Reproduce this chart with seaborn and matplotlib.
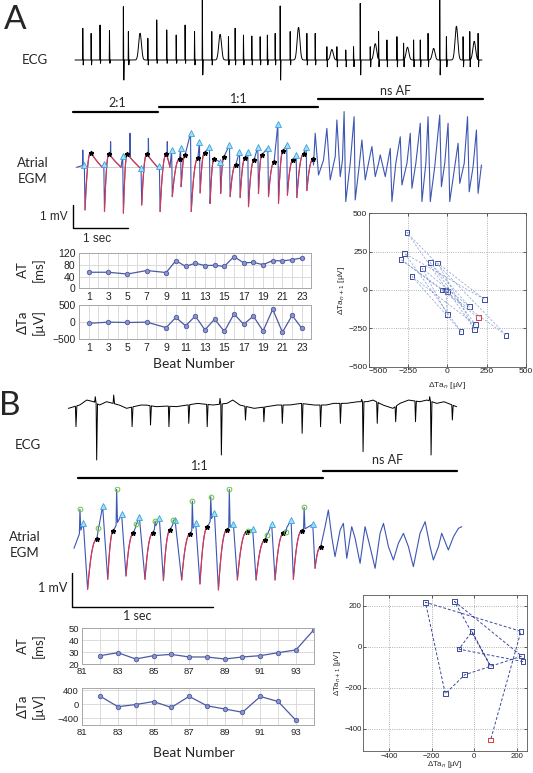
import numpy as np
import pandas as pd
import matplotlib
matplotlib.use("Agg")
import matplotlib.pyplot as plt
import seaborn as sns

sns.set_theme(style="white")
plt.rcParams["font.family"] = ["Liberation Sans", "DejaVu Sans"]
LBL = ["Lato", "DejaVu Sans"]

# ======================= DATA =======================
# ---- Panel A : beat-by-beat AT / dTa ----
beats_a = [1, 3, 5, 7, 9, 10, 11, 12, 13, 14, 15, 16, 17, 18, 19, 20, 21, 22, 23]
at_a = [55, 55, 49, 61, 54, 95, 75, 86, 78, 79, 75, 109, 87, 89, 81, 95, 94, 98, 104]
dta_a = [-35, 0, -10, 0, -160, 140, -108, 178, -225, 88, -272, 238, -62, 175,
         -258, 375, -295, 198, -180]
xticks_a = [1, 3, 5, 7, 9, 11, 13, 15, 17, 19, 21, 23]

# ---- Panel B : beat-by-beat AT / dTa ----
beats_b_at = [82, 83, 84, 85, 86, 87, 88, 89, 90, 91, 92, 93, 94]
at_b = [27, 29.5, 24.2, 27, 28.1, 25.9, 25.9, 24.2, 25.9, 27, 29.5, 31.8, 48.6]
beats_b_dta = [82, 83, 84, 85, 86, 87, 88, 89, 90, 91, 92, 93]
dta_b = [228, -72, -11, 75, -93, 222, -45, -136, -229, 218, 76, -455]
xticks_b = [81, 83, 85, 87, 89, 91, 93]

# ---- Panel A : surface ECG (time s, mV) ----
ecgA_spk_t = [0.14, 0.29, 0.45, 0.62, 0.87, 0.96, 1.31, 1.47, 1.65, 1.82, 1.98, 2.15, 2.29,
              2.46, 2.76, 2.88, 3.03, 3.18, 3.33, 3.46, 3.60, 3.69, 3.87, 4.17, 4.32, 4.53,
              4.71, 4.87, 5.01, 5.13, 5.31, 5.46, 5.61, 5.79, 5.91, 6.09, 6.21, 6.35, 6.56,
              6.68, 6.98, 7.10, 7.25]
ecgA_spk_top = [1.36, 1.14, 1.50, 1.26, 2.29, 1.22, 0.93, 1.72, 1.29, 1.07, 1.50, 1.22, 2.58,
                1.22, 1.00, 1.36, 1.07, 1.03, 1.00, 1.07, 1.14, 2.32, 1.22, 1.14, 1.14, 0.57,
                0.57, 0.43, 0.57, 2.43, 0.57, 1.22, 0.86, 1.00, 0.72, 0.86, 0.86, 1.14, 2.58,
                1.00, 1.00, 1.22, 1.14]
ecgA_spk_bot = [-0.21, -0.21, -0.14, -0.14, -0.86, -0.21, -0.21, -0.14, -0.14, -0.14, -0.14,
                -0.21, -0.64, -0.21, -0.21, -0.21, -0.21, -0.21, -0.21, -0.21, -0.21, -0.86,
                -0.21, -0.21, -0.21, -0.29, -0.29, -0.29, -0.29, -0.64, -0.29, -0.29, -0.29,
                -0.29, -0.29, -0.29, -0.29, -0.29, -0.64, -0.29, -0.29, -0.29, -0.29]
ecgA_hump_t = [1.17, 2.61, 4.02, 4.62, 5.40, 5.98, 6.45, 6.86, 7.18]
ecgA_hump_v = [1.15, 1.10, 1.40, 0.45, 0.70, 0.55, 0.50, 1.45, 0.80]

# ---- Panel A : atrial EGM (time s, mV) ----
egmA_down_t = [0.18, 0.53, 0.87, 1.20, 1.53, 1.75, 1.91, 2.09, 2.25, 2.43, 2.62, 2.79, 2.97,
               3.12, 3.30, 3.48, 3.66, 3.82, 3.99, 4.17]
egmA_down_v = [-1.83, -1.90, -1.97, -1.62, -1.90, -1.26, -0.83, -1.90, -1.10, -1.55, -1.12,
               -1.26, -1.30, -1.69, -1.12, -1.26, -1.55, -1.20, -1.30, -1.00]
egmA_star_t = [0.28, 0.61, 0.94, 1.29, 1.64, 1.88, 1.98, 2.21, 2.33, 2.50, 2.68, 2.89, 3.06,
               3.22, 3.36, 3.58, 3.74, 3.92, 4.11, 4.28]
egmA_star_v = [0.63, 0.57, 0.57, 0.57, 0.57, 0.36, 0.53, 0.39, 0.63, 0.34, 0.46, 0.10, 0.41,
               0.31, 0.53, 0.21, 0.70, 0.31, 0.57, 0.34]
egmA_tri_v = [0.10, 0.13, 0.50, -0.04, 0.06, 0.74, 0.82, 1.46, 1.10, 0.88, 0.24, 0.96, 0.67,
              0.67, 0.88, 0.84, 1.86, 0.96, 0.53, 0.88]
egmA_ff_t = [0.14, 0.64, 0.99, 1.32, 1.66]
egmA_ff_v = [0.74, 1.10, 1.46, 1.24, 1.10]
egmA_af_t = [4.29, 4.32, 4.38, 4.47, 4.53, 4.59, 4.68, 4.71, 4.77, 4.81, 4.84, 4.87, 4.95,
             5.02, 5.04, 5.11, 5.16, 5.22, 5.29, 5.34, 5.40, 5.46, 5.49, 5.58, 5.67, 5.70,
             5.77, 5.85, 5.88, 5.97, 6.03, 6.06, 6.13, 6.21, 6.24, 6.31, 6.35, 6.39, 6.47,
             6.56, 6.59, 6.65, 6.71, 6.74, 6.83, 6.89, 6.92, 7.00, 7.06, 7.09, 7.16, 7.22,
             7.25, 7.31]
egmA_af_v = [0.10, 1.46, -0.33, 0.31, 1.67, -0.54, 0.46, 2.03, -0.40, 0.31, 2.39, -1.47, 0.17,
             2.17, -1.40, 0.03, 1.17, -0.54, 0.31, 0.89, -0.40, 0.17, 0.53, -0.40, 0.81, -1.47,
             0.17, 1.31, -0.76, 0.17, 1.46, -0.90, 0.17, 1.89, -1.47, 0.17, 2.17, -1.47, 0.03,
             2.24, -0.83, 0.17, 1.89, -1.47, 0.03, 1.03, -0.69, 0.17, 2.17, -1.05, 0.03, 1.60,
             -1.12, 0.10]

# ---- Panel B : surface ECG (time s, mV) ----
ecgB_base_t = [-0.04, 0.04, 0.09, 0.14, 0.18, 0.23, 0.32, 0.37, 0.47, 0.51, 0.58, 0.65, 0.72,
               0.80, 0.87, 0.98, 1.08, 1.12, 1.17, 1.27, 1.36, 1.43, 1.52, 1.60, 1.69, 1.78,
               1.83, 1.92, 2.00, 2.07, 2.11, 2.18, 2.25, 2.30, 2.36, 2.44, 2.49, 2.56, 2.61,
               2.70]
ecgB_base_v = [-0.05, 0.05, 0.20, 0.15, 0.05, 0.15, 0.05, -0.05, 0.05, 0.05, 0.0, 0.02, 0.0,
               0.05, 0.10, 0.05, 0.10, 0.20, 0.05, -0.05, 0.0, 0.05, 0.05, 0.10, 0.05, 0.05,
               0.10, 0.10, 0.15, 0.15, 0.20, 0.05, -0.05, 0.10, 0.20, 0.15, 0.20, 0.10, 0.15,
               0.0]
ecgB_dn_t = [0.014, 0.16, 0.41, 0.54, 0.67, 0.81, 0.94, 1.04, 1.21, 1.34, 1.47, 1.61, 1.74,
             1.88, 2.04, 2.14, 2.27, 2.41, 2.52, 2.67]
ecgB_dn_v = [-0.60, -1.60, -0.60, -0.55, -0.60, -0.50, -0.60, -1.45, -0.40, -0.45, -0.50,
             -0.80, -0.60, -0.50, -1.35, -0.50, -0.45, -0.45, -1.45, -0.40]
ecgB_up_t = [0.15, 0.28, 1.03, 2.03, 2.51]
ecgB_up_v = [0.30, 0.35, 0.25, 0.22, 0.30]

# ---- Panel B : atrial EGM (time s, mV) ----
egmB_down_t = [0.096, 0.238, 0.367, 0.501, 0.631, 0.760, 0.889, 1.019, 1.153, 1.285, 1.419,
               1.548, 1.701]
egmB_down_v = [-1.48, -1.18, -1.08, -1.18, -1.22, -1.20, -1.32, -1.50, -1.20, -1.20, -1.20,
               -1.18, -0.85]
egmB_star_t = [0.160, 0.278, 0.419, 0.555, 0.678, 0.819, 0.941, 1.078, 1.219, 1.348, 1.478,
               1.607, 1.741]
egmB_star_v = [0.02, 0.28, 0.20, 0.20, 0.30, 0.18, 0.38, 0.30, 0.25, 0.00, 0.20, 0.28, -0.20]
egmB_green_t = [0.042, 0.172, 0.301, 0.438, 0.572, 0.701, 0.835, 0.965, 1.096, 1.231, 1.360,
                1.496, 1.624]
egmB_green_v = [0.92, 0.37, 1.52, 0.47, 0.57, 0.60, 1.17, 1.30, 1.52, 0.28, 0.15, 0.24, 0.98]
egmB_tri_t = [0.066, 0.202, 0.336, 0.461, 0.602, 0.713, 0.859, 0.991, 1.125, 1.261, 1.395,
              1.532, 1.685]
egmB_tri_v = [0.50, 1.02, 0.77, 0.70, 0.67, 0.60, 0.50, 0.82, 0.47, 0.32, 0.47, 0.60, 0.47]
egmB_af_t = [1.772, 1.795, 1.819, 1.842, 1.878, 1.901, 1.925, 1.960, 1.984, 2.019, 2.054,
             2.089, 2.125, 2.160, 2.184, 2.219, 2.254, 2.289, 2.325, 2.360, 2.395, 2.442,
             2.478, 2.513, 2.536, 2.572, 2.595, 2.642, 2.678, 2.713, 2.736]
egmB_af_v = [0.40, 0.90, 0.10, -0.50, 0.30, 0.50, -0.55, 0.40, 0.05, -0.70, 0.40, -0.20,
             -0.85, 0.20, 0.50, -0.20, -0.60, -0.10, 0.20, -0.20, -0.80, 0.20, 0.55, -0.20,
             -0.60, -0.20, 0.20, -0.30, 0.10, 0.35, 0.40]

# ======================= STYLE =======================
W, H = 533, 773
BLUE = "#3d56b2"
RED = "#e8324a"
SMALL_LINE = "#4d5aa3"
SMALL_MFC = "#8b93c9"
SQ = "#3b4a9c"

fig = plt.figure(figsize=(W / 100, H / 100), dpi=100)


def add_ax(x0, y0, x1, y1):
    return fig.add_axes([x0 / W, 1 - y1 / H, (x1 - x0) / W, (y1 - y0) / H])


def trace_ax(xlim, ylim, px0, sx, py0, sy):
    ax = add_ax(px0 + sx * xlim[0], py0 - sy * ylim[1], px0 + sx * xlim[1], py0 - sy * ylim[0])
    ax.set_xlim(xlim)
    ax.set_ylim(ylim)
    ax.axis("off")
    return ax


def ftxt(px, py, s, **kw):
    kw.setdefault("ha", "center")
    kw.setdefault("va", "center")
    fig.text(px / W, 1 - py / H, s, **kw)


def insert_spikes(tt, vv, spikes):
    tt = np.asarray(tt, float)
    vv = np.asarray(vv, float)
    keep = np.ones(len(tt), bool)
    at, av = [], []
    for t, shape in spikes:
        lo = t + min(d for d, _ in shape) - 0.004
        hi = t + max(d for d, _ in shape) + 0.006
        keep &= ~((tt > lo) & (tt < hi))
        at += [lo, hi] + [t + d for d, _ in shape]
        av += [np.interp(lo, tt, vv), np.interp(hi, tt, vv)] + [v for _, v in shape]
    T = np.concatenate([tt[keep], at])
    V = np.concatenate([vv[keep], av])
    o = np.argsort(T, kind="stable")
    return T[o], V[o]


def build_egm(start, down_t, down_v, star_t, star_v, tri_t, tri_v, tail_t, tail_v, n_decay):
    pts = [start]
    reds = []
    n = len(down_t)
    for i in range(n):
        pts.append((tri_t[i], tri_v[i]))
        pts.append((down_t[i], down_v[i]))
        s = np.linspace(0, 1, 10)
        rt = down_t[i] + s * (star_t[i] - down_t[i])
        rv = down_v[i] + (star_v[i] - down_v[i]) * (1 - (1 - s) ** 2.2)
        seg = list(zip(rt, rv))
        pts += seg[1:]
        nxt = tri_t[i + 1] if i + 1 < n else tail_t[0]
        if i < n_decay:
            gap = nxt - star_t[i]
            d = [(star_t[i] + 0.45 * gap, star_v[i] * 0.45), (nxt - 0.03, 0.0)]
            pts += d
            seg = seg + d
        reds.append(seg)
    pts += list(zip(tail_t, tail_v))
    pts.sort(key=lambda p: p[0])
    T = np.array([p[0] for p in pts])
    V = np.array([p[1] for p in pts])
    return T, V, reds


# ======================= PANEL A =======================
ttA = np.linspace(0.0, 7.32, 2500)
baseA = np.zeros_like(ttA)
for t, v in zip(ecgA_hump_t, ecgA_hump_v):
    baseA += v * np.exp(-((ttA - t) / 0.035) ** 2)
spA = [(t, [(0.0, top), (0.008, bot)]) for t, top, bot in zip(ecgA_spk_t, ecgA_spk_top, ecgA_spk_bot)]
TA, VA = insert_spikes(ttA, baseA, spA)
axE = trace_ax((0, 7.37), (-1.2, 2.55), 75, 55.6, 60, 23.3)
axE.plot(TA, VA, color="black", lw=0.7, clip_on=False)

triA_t = [t - 0.012 for t in egmA_down_t]
T, V, reds = build_egm((0.03, 0.0), egmA_down_t, egmA_down_v, egmA_star_t, egmA_star_v,
                       triA_t, egmA_tri_v, egmA_af_t, egmA_af_v, 5)
T, V = insert_spikes(T, V, [(t, [(0.0, v)]) for t, v in zip(egmA_ff_t, egmA_ff_v)])
axG = trace_ax((-0.05, 7.37), (-2.65, 2.6), 75, 55.6, 167.3, 23.3)
axG.plot([0.0, 7.32], [0, 0], color="#c9c9c9", lw=0.6, zorder=1)
axG.plot(T, V, color=BLUE, lw=0.8, zorder=2, clip_on=False)
for seg in reds:
    axG.plot([p[0] for p in seg], [p[1] for p in seg], color=RED, lw=0.8, zorder=3)
axG.plot(egmA_star_t, egmA_star_v, ls="none", marker="*", color="black", ms=3.4, zorder=5)
axG.plot(triA_t, egmA_tri_v, ls="none", marker="^", mfc="#a6defa", mec="#38a3dc", mew=0.6,
         ms=3.8, zorder=5)
axG.plot([-0.04, -0.04, 0.96], [-1.6, -2.6, -2.6], color="black", lw=1.0, clip_on=False)

ftxt(15, 20, "A", fontsize=24, family=LBL)
ftxt(35, 60, "ECG", fontsize=9.5, family=LBL)
ftxt(33, 171, "Atrial\nEGM", fontsize=9.5, family=LBL, linespacing=1.4)
ftxt(68, 217, "1 mV", fontsize=8.5, ha="right")
ftxt(97, 239, "1 sec", fontsize=8.5)

barA = fig.add_axes([0, 0, 1, 1], facecolor="none")
barA.set_xlim(0, W)
barA.set_ylim(H, 0)
barA.axis("off")
barA.plot([73, 158], [112, 112], color="black", lw=1.6)
barA.plot([159.3, 318.3], [106.7, 106.7], color="black", lw=1.6)
barA.plot([318.3, 483.3], [99.3, 99.3], color="black", lw=1.6)
barA.plot([78.3, 323.3], [477.7, 477.7], color="black", lw=1.6)
barA.plot([323.3, 456.7], [471, 471], color="black", lw=1.6)
ftxt(117, 103, "2:1", fontsize=9, family=LBL)
ftxt(239, 99, "1:1", fontsize=9, family=LBL)
ftxt(396, 91, "ns AF", fontsize=9, family=LBL)
ftxt(200, 466, "1:1", fontsize=9, family=LBL)
ftxt(388, 460, "ns AF", fontsize=9, family=LBL)


def small_plot(box, x, y, xlim, ylim, yticks, xticks, minor, fs):
    ax = add_ax(*box)
    sns.lineplot(x=x, y=y, ax=ax, color=SMALL_LINE, lw=0.9, marker="o", markersize=3.2,
                 markerfacecolor=SMALL_MFC, markeredgecolor=SMALL_LINE, markeredgewidth=0.6)
    ax.set_xlim(xlim)
    ax.set_ylim(ylim)
    ax.set_xticks(xticks)
    ax.set_xticks(minor, minor=True)
    ax.set_yticks(yticks)
    ax.grid(which="both", color="#d6d6d6", lw=0.6)
    ax.set_axisbelow(True)
    for s in ax.spines.values():
        s.set_color("#a8a8a8")
        s.set_linewidth(0.7)
    ax.tick_params(which="both", length=0, labelsize=fs, pad=2.5, colors="#222222")
    ax.set_xlabel("")
    ax.set_ylabel("")
    return ax


small_plot((79, 253.3, 311.5, 288.3), beats_a, at_a, (0, 24), (0, 120), [0, 40, 80, 120],
           xticks_a, list(range(1, 24)), 7.5)
small_plot((79, 305, 311.5, 339.3), beats_a, dta_a, (0, 24), (-500, 500), [-500, 0, 500],
           xticks_a, list(range(1, 24)), 7.5)
ftxt(31, 270, "AT\n[ms]", fontsize=9.5, family=LBL, rotation=90, linespacing=1.3)
ftxt(31, 322, "ΔTa\n[µV]", fontsize=9.5, family=LBL, rotation=90, linespacing=1.3)
ftxt(194, 364, "Beat Number", fontsize=10, family=LBL)


def scatter_panel(box, series, xlim, ylim, ticks, line_color, line_lw, xlabel_y, fs):
    ax = add_ax(*box)
    df = pd.DataFrame({"x": series[:-1], "y": series[1:]})
    sns.lineplot(data=df, x="x", y="y", sort=False, estimator=None, ax=ax, color=line_color,
                 lw=line_lw)
    ax.lines[-1].set_linestyle((0, (3, 2)))
    sns.scatterplot(data=df.iloc[:-1], x="x", y="y", marker="s", s=11, ax=ax, color=SQ,
                    linewidth=0.7)
    ax.collections[-1].set_facecolor("none")
    ax.collections[-1].set_edgecolor(SQ)
    sns.scatterplot(data=df.iloc[-1:], x="x", y="y", marker="s", s=11, ax=ax, color=RED,
                    linewidth=0.7)
    ax.collections[-1].set_facecolor("none")
    ax.collections[-1].set_edgecolor("#e03a3a")
    ax.set_xlim(xlim)
    ax.set_ylim(ylim)
    ax.set_xticks(ticks)
    ax.set_yticks(ticks)
    ax.grid(True, ls=":", color="#9a9a9a", lw=0.6)
    for s in ax.spines.values():
        s.set_color("#555555")
        s.set_linewidth(0.6)
    ax.tick_params(direction="in", length=2, width=0.5, labelsize=fs, pad=1.2,
                   colors="#222222", left=True, bottom=True, top=True, right=True,
                   labeltop=False, labelright=False)
    ax.set_xlabel("ΔTa$_{n}$ [μV]", fontsize=fs)
    ax.set_ylabel("ΔTa$_{n+1}$ [μV]", fontsize=fs, labelpad=1)
    ax.xaxis.set_label_coords(0.5, xlabel_y)
    return ax


axSA = scatter_panel((369, 213.3, 525.7, 366.7), dta_a, (-500, 500), (-500, 500),
                     [-500, -250, 0, 250, 500], "#93a6d8", 0.55, -0.085, 6)
axSA.get_xticklabels()[0].set_horizontalalignment("left")

# ======================= PANEL B =======================
ttB = np.linspace(-0.04, 2.70, 2000)
baseB = np.interp(ttB, ecgB_base_t, ecgB_base_v)
spB = [(t, [(0.0, v)]) for t, v in zip(ecgB_dn_t, ecgB_dn_v)]
spB += [(t, [(0.0, v)]) for t, v in zip(ecgB_up_t, ecgB_up_v)]
TB, VB = insert_spikes(ttB, baseB, spB)
axEB = trace_ax((-0.05, 2.72), (-1.7, 0.5), 74, 141.7, 406.7, 33.3)
axEB.plot(TB, VB, color="black", lw=0.7, clip_on=False)

T, V, redsB = build_egm((0.0, -0.25), egmB_down_t, egmB_down_v, egmB_star_t, egmB_star_v,
                        egmB_tri_t, egmB_tri_v, egmB_af_t, egmB_af_v, 0)
T, V = insert_spikes(T, V, [(t, [(0.0, v)]) for t, v in zip(egmB_green_t, egmB_green_v)])
axGB = trace_ax((-0.02, 2.75), (-2.05, 1.6), 74, 141.7, 540, 33.3)
axGB.plot(T, V, color=BLUE, lw=0.8, zorder=2, clip_on=False)
for seg in redsB:
    axGB.plot([p[0] for p in seg], [p[1] for p in seg], color=RED, lw=0.8, zorder=3)
axGB.plot(egmB_star_t, egmB_star_v, ls="none", marker="*", color="black", ms=3.4, zorder=5)
axGB.plot(egmB_tri_t, egmB_tri_v, ls="none", marker="^", mfc="#a6defa", mec="#38a3dc",
          mew=0.6, ms=3.8, zorder=5)
axGB.plot(egmB_green_t, egmB_green_v, ls="none", marker="o", mfc="none", mec="#66c23f",
          mew=0.7, ms=3.4, zorder=5)
axGB.plot([-0.016, -0.016, 0.983], [-1.0, -2.0, -2.0], color="black", lw=1.0, clip_on=False)

ftxt(10, 406, "B", fontsize=24, family=LBL)
ftxt(28, 445, "ECG", fontsize=9.5, family=LBL)
ftxt(25, 545, "Atrial\nEGM", fontsize=9.5, family=LBL, linespacing=1.4)
ftxt(67, 588, "1 mV", fontsize=9, family=LBL, ha="right")
ftxt(137, 616, "1 sec", fontsize=9, family=LBL)

small_plot((82.3, 628.3, 313.7, 664), beats_b_at, at_b, (81, 94), (20, 50), [20, 30, 40, 50],
           xticks_b, list(range(81, 95)), 6.8)
small_plot((82.3, 688.3, 313.7, 725), beats_b_dta, dta_b, (81, 94), (-590, 450),
           [-400, 0, 400], xticks_b, list(range(81, 95)), 6.8)
ftxt(31, 646, "AT\n[ms]", fontsize=9.5, family=LBL, rotation=90, linespacing=1.3)
ftxt(31, 706, "ΔTa\n[µV]", fontsize=9.5, family=LBL, rotation=90, linespacing=1.3)
ftxt(194, 753, "Beat Number", fontsize=10, family=LBL)

scatter_panel((363.3, 594.7, 526.7, 751.3), dta_b, (-520, 245), (-510, 255),
              [-400, -200, 0, 200], SQ, 0.7, -0.052, 5.6)

fig.savefig("out.png", dpi=100)
